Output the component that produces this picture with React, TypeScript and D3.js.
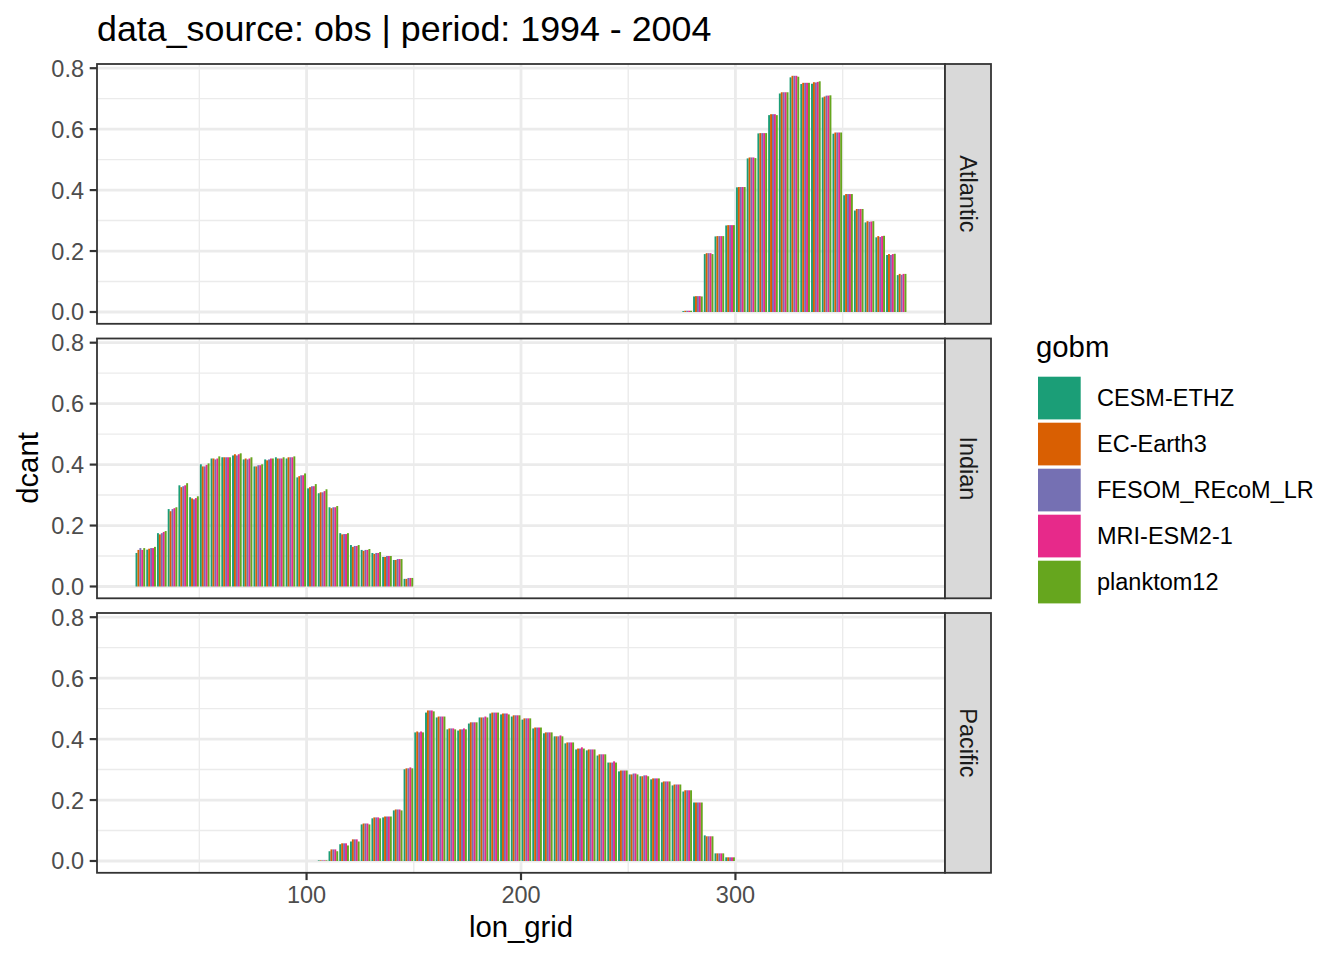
import React from 'react';
import * as d3 from 'd3';

const models = ['CESM-ETHZ', 'EC-Earth3', 'FESOM_REcoM_LR', 'MRI-ESM2-1', 'planktom12'];
const modelColors = ['#1B9E77', '#D95F02', '#7570B3', '#E7298A', '#66A61E'];
const basins = ['Atlantic', 'Indian', 'Pacific'];

const atlanticLon = [277.5, 282.5, 287.5, 292.5, 297.5, 302.5, 307.5, 312.5, 317.5, 322.5, 327.5, 332.5, 337.5, 342.5, 347.5, 352.5, 357.5, 362.5, 367.5, 372.5, 377.5];
const atlanticCESM = [0.003, 0.051, 0.190, 0.248, 0.284, 0.409, 0.504, 0.586, 0.646, 0.717, 0.770, 0.748, 0.749, 0.704, 0.585, 0.383, 0.333, 0.294, 0.245, 0.187, 0.121];
const atlanticEC = [0.004, 0.052, 0.193, 0.249, 0.285, 0.410, 0.507, 0.587, 0.649, 0.721, 0.775, 0.752, 0.754, 0.707, 0.589, 0.387, 0.338, 0.298, 0.249, 0.190, 0.125];
const atlanticFESOM = [0.004, 0.052, 0.193, 0.249, 0.285, 0.410, 0.507, 0.587, 0.649, 0.721, 0.775, 0.752, 0.753, 0.710, 0.589, 0.387, 0.338, 0.296, 0.246, 0.187, 0.122];
const atlanticMRI = [0.004, 0.052, 0.193, 0.249, 0.285, 0.410, 0.507, 0.587, 0.649, 0.721, 0.775, 0.752, 0.755, 0.710, 0.589, 0.387, 0.338, 0.297, 0.249, 0.190, 0.125];
const atlanticPlank = [0.004, 0.051, 0.190, 0.249, 0.285, 0.410, 0.505, 0.587, 0.646, 0.721, 0.772, 0.752, 0.757, 0.711, 0.589, 0.387, 0.338, 0.298, 0.250, 0.191, 0.125];

const indianLon = [22.5, 27.5, 32.5, 37.5, 42.5, 47.5, 52.5, 57.5, 62.5, 67.5, 72.5, 77.5, 82.5, 87.5, 92.5, 97.5, 102.5, 107.5, 112.5, 117.5, 122.5, 127.5, 132.5, 137.5, 142.5, 147.5];
const indianCESM = [0.110, 0.121, 0.175, 0.254, 0.332, 0.293, 0.401, 0.420, 0.424, 0.430, 0.417, 0.394, 0.417, 0.424, 0.420, 0.358, 0.322, 0.306, 0.260, 0.175, 0.136, 0.120, 0.110, 0.097, 0.087, 0.025];
const indianEC = [0.120, 0.124, 0.171, 0.247, 0.326, 0.289, 0.394, 0.420, 0.424, 0.434, 0.420, 0.394, 0.414, 0.420, 0.424, 0.362, 0.326, 0.309, 0.257, 0.171, 0.130, 0.117, 0.107, 0.097, 0.087, 0.025];
const indianFESOM = [0.126, 0.126, 0.175, 0.254, 0.329, 0.286, 0.394, 0.417, 0.424, 0.430, 0.417, 0.398, 0.417, 0.420, 0.424, 0.365, 0.329, 0.309, 0.260, 0.172, 0.133, 0.120, 0.110, 0.100, 0.090, 0.028];
const indianMRI = [0.120, 0.126, 0.179, 0.257, 0.332, 0.290, 0.399, 0.420, 0.424, 0.434, 0.420, 0.398, 0.420, 0.420, 0.424, 0.365, 0.329, 0.313, 0.260, 0.172, 0.133, 0.120, 0.110, 0.100, 0.090, 0.028];
const indianPlank = [0.126, 0.130, 0.182, 0.260, 0.339, 0.296, 0.404, 0.427, 0.424, 0.437, 0.424, 0.401, 0.420, 0.424, 0.427, 0.371, 0.336, 0.319, 0.264, 0.175, 0.136, 0.123, 0.113, 0.100, 0.090, 0.028];

const pacificLon = [107.5, 112.5, 117.5, 122.5, 127.5, 132.5, 137.5, 142.5, 147.5, 152.5, 157.5, 162.5, 167.5, 172.5, 177.5, 182.5, 187.5, 192.5, 197.5, 202.5, 207.5, 212.5, 217.5, 222.5, 227.5, 232.5, 237.5, 242.5, 247.5, 252.5, 257.5, 262.5, 267.5, 272.5, 277.5, 282.5, 287.5, 292.5, 297.5];
const pacificCESM = [0.002, 0.032, 0.055, 0.064, 0.120, 0.140, 0.143, 0.166, 0.301, 0.422, 0.487, 0.471, 0.432, 0.428, 0.451, 0.471, 0.484, 0.481, 0.474, 0.464, 0.435, 0.419, 0.409, 0.386, 0.366, 0.363, 0.346, 0.323, 0.294, 0.284, 0.278, 0.268, 0.258, 0.248, 0.228, 0.192, 0.084, 0.025, 0.012];
const pacificEC = [0.002, 0.038, 0.058, 0.071, 0.123, 0.143, 0.146, 0.169, 0.304, 0.425, 0.494, 0.474, 0.435, 0.432, 0.455, 0.471, 0.487, 0.484, 0.478, 0.468, 0.438, 0.422, 0.409, 0.389, 0.369, 0.366, 0.350, 0.323, 0.297, 0.284, 0.278, 0.271, 0.261, 0.251, 0.232, 0.192, 0.081, 0.025, 0.012];
const pacificFESOM = [0.002, 0.038, 0.058, 0.071, 0.123, 0.143, 0.146, 0.169, 0.304, 0.422, 0.494, 0.474, 0.435, 0.432, 0.455, 0.471, 0.487, 0.484, 0.478, 0.468, 0.438, 0.422, 0.409, 0.389, 0.369, 0.366, 0.350, 0.323, 0.297, 0.287, 0.281, 0.271, 0.261, 0.251, 0.232, 0.192, 0.081, 0.025, 0.012];
const pacificMRI = [0.002, 0.038, 0.058, 0.071, 0.123, 0.143, 0.146, 0.169, 0.307, 0.425, 0.494, 0.474, 0.435, 0.435, 0.455, 0.474, 0.487, 0.484, 0.478, 0.468, 0.438, 0.422, 0.412, 0.389, 0.373, 0.366, 0.350, 0.327, 0.297, 0.287, 0.281, 0.271, 0.261, 0.251, 0.232, 0.192, 0.081, 0.025, 0.012];
const pacificPlank = [0.002, 0.032, 0.051, 0.064, 0.120, 0.140, 0.146, 0.166, 0.304, 0.422, 0.491, 0.474, 0.432, 0.432, 0.455, 0.471, 0.487, 0.481, 0.478, 0.468, 0.438, 0.422, 0.409, 0.389, 0.369, 0.366, 0.350, 0.323, 0.297, 0.284, 0.278, 0.271, 0.261, 0.251, 0.232, 0.192, 0.081, 0.025, 0.012];

const yTicks = [0, 0.2, 0.4, 0.6, 0.8];
const yMinor = [0.1, 0.3, 0.5, 0.7];
const xTicks = [100, 200, 300];
const xMinor = [50, 150, 250, 350];

const titleText = 'data_source: obs | period: 1994 - 2004';

const basinData = [
  { basin: basins[0], lon: atlanticLon, values: [atlanticCESM, atlanticEC, atlanticFESOM, atlanticMRI, atlanticPlank] },
  { basin: basins[1], lon: indianLon, values: [indianCESM, indianEC, indianFESOM, indianMRI, indianPlank] },
  { basin: basins[2], lon: pacificLon, values: [pacificCESM, pacificEC, pacificFESOM, pacificMRI, pacificPlank] },
];

const FONT = '"Liberation Sans", Arial, Helvetica, sans-serif';

export default function App() {
  const W = 1344, Hh = 960;
  const panelLeft = 97, panelRight = 945, stripRight = 991;
  const panelTop0 = 64, panelH = 259.8, gap = 14.7;
  const barWidth = 4.5;

  const allLon = basinData.flatMap(b => b.lon);
  const lo = d3.min(allLon)! - barWidth / 2;
  const hi = d3.max(allLon)! + barWidth / 2;
  const ex = (hi - lo) * 0.05;
  const x = d3.scaleLinear().domain([lo - ex, hi + ex]).range([panelLeft, panelRight]);

  const yMax = d3.max(basinData.flatMap(b => b.values.flat()))!;
  const dodge = d3.scaleBand<string>().domain(models).range([-barWidth / 2, barWidth / 2]).padding(0);

  const tickCol = '#333333';
  const textCol = '#4D4D4D';
  const grid = '#EBEBEB';

  return (
    <svg width={W} height={Hh} style={{ position: 'absolute', left: 0, top: 0, background: '#fff' }} fontFamily={FONT}>
      <rect x={0} y={0} width={W} height={Hh} fill="#fff" />
      <text x={97} y={41} fontSize={35.8} fill="#000">{titleText}</text>
      {basinData.map((b, bi) => {
        const top = panelTop0 + bi * (panelH + gap);
        const bottom = top + panelH;
        const y = d3.scaleLinear().domain([-0.05 * yMax, 1.05 * yMax]).range([bottom, top]);
        return (
          <g key={b.basin}>
            <defs>
              <clipPath id={`clip${bi}`}>
                <rect x={panelLeft} y={top} width={panelRight - panelLeft} height={panelH} />
              </clipPath>
            </defs>
            <g clipPath={`url(#clip${bi})`}>
              {xMinor.map(t => (
                <line key={'xm' + t} x1={x(t)} x2={x(t)} y1={top} y2={bottom} stroke={grid} strokeWidth={1.4} />
              ))}
              {yMinor.map(t => (
                <line key={'ym' + t} x1={panelLeft} x2={panelRight} y1={y(t)} y2={y(t)} stroke={grid} strokeWidth={1.4} />
              ))}
              {xTicks.map(t => (
                <line key={'xM' + t} x1={x(t)} x2={x(t)} y1={top} y2={bottom} stroke={grid} strokeWidth={2.8} />
              ))}
              {yTicks.map(t => (
                <line key={'yM' + t} x1={panelLeft} x2={panelRight} y1={y(t)} y2={y(t)} stroke={grid} strokeWidth={2.8} />
              ))}
              {b.lon.map((lon, i) =>
                models.map((m, mi) => {
                  const v = b.values[mi][i];
                  const x0 = x(lon + dodge(m)!);
                  const x1 = x(lon + dodge(m)! + dodge.bandwidth());
                  return (
                    <rect key={`${lon}-${m}`} x={x0} width={x1 - x0} y={y(v)} height={y(0) - y(v)} fill={modelColors[mi]} />
                  );
                })
              )}
            </g>
            <rect x={panelLeft} y={top} width={panelRight - panelLeft} height={panelH} fill="none" stroke={tickCol} strokeWidth={1.8} />
            {yTicks.map(t => (
              <g key={'yt' + t}>
                <line x1={panelLeft - 7.3} x2={panelLeft} y1={y(t)} y2={y(t)} stroke={tickCol} strokeWidth={2.2} />
                <text x={84} y={y(t)} dy="0.36em" textAnchor="end" fontSize={23.5} fill={textCol}>{t.toFixed(1)}</text>
              </g>
            ))}
            <rect x={panelRight} y={top} width={stripRight - panelRight} height={panelH} fill="#D9D9D9" stroke={tickCol} strokeWidth={1.8} />
            <text transform={`translate(${(panelRight + stripRight) / 2},${(top + bottom) / 2}) rotate(90)`} textAnchor="middle" dy="0.36em" fontSize={23.5} fill="#1A1A1A">{b.basin}</text>
            {bi === basinData.length - 1 && xTicks.map(t => (
              <g key={'xt' + t}>
                <line x1={x(t)} x2={x(t)} y1={bottom} y2={bottom + 7.3} stroke={tickCol} strokeWidth={2.2} />
                <text x={x(t)} y={903} textAnchor="middle" fontSize={23.5} fill={textCol}>{t}</text>
              </g>
            ))}
          </g>
        );
      })}
      <text x={(panelLeft + panelRight) / 2} y={937} textAnchor="middle" fontSize={29.3} fill="#000">lon_grid</text>
      <text transform={`translate(38,468) rotate(-90)`} textAnchor="middle" fontSize={29.3} fill="#000">dcant</text>
      <text x={1036} y={357} fontSize={29.3} fill="#000">gobm</text>
      {models.map((m, i) => {
        const cy = 398 + i * 46;
        return (
          <g key={m}>
            <rect x={1038} y={cy - 21.3} width={42.7} height={42.7} fill={modelColors[i]} />
            <text x={1097} y={cy} dy="0.36em" fontSize={23.5} fill="#000">{m}</text>
          </g>
        );
      })}
    </svg>
  );
}
